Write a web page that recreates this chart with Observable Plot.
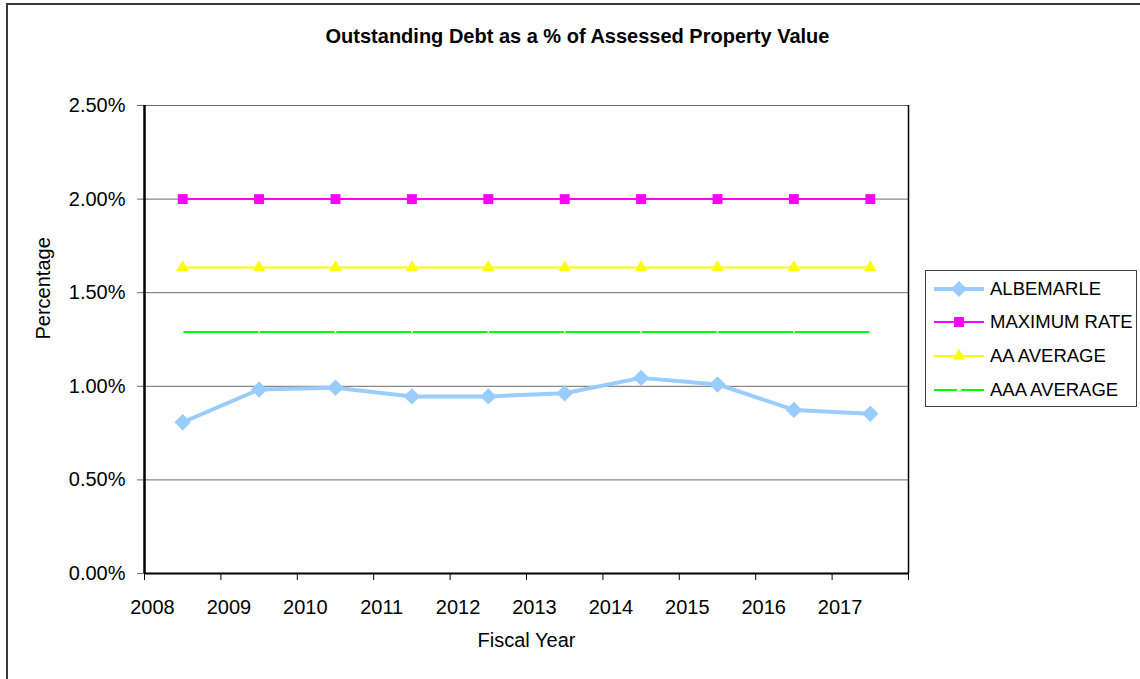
<!DOCTYPE html>
<html><head><meta charset="utf-8">
<script src="https://cdn.jsdelivr.net/npm/d3@7"></script>
<script src="https://cdn.jsdelivr.net/npm/@observablehq/plot@0.6"></script>
<style>
body{margin:0;background:#fff;font-family:"Liberation Sans",Arial,sans-serif;}
#wrap{position:relative;width:1140px;height:679px;overflow:hidden;background:#fff;}
#border{position:absolute;left:6px;top:3px;width:1150px;height:700px;border:2px solid #3a3a3a;box-sizing:border-box;}
#title{position:absolute;left:0;width:1155px;top:25px;text-align:center;font-weight:bold;font-size:20px;color:#000;}
#chart{position:absolute;left:0;top:0;}
#legend{position:absolute;left:925px;top:270px;width:212px;height:137px;border:1px solid #404040;box-sizing:border-box;background:#fff;}
.row{position:absolute;left:0;height:30px;display:flex;align-items:center;}
.row svg{margin-left:8px;}
.row span{margin-left:6px;font-size:18.5px;color:#000;white-space:nowrap;}
</style>
</head><body>
<div id="wrap">
  <div id="border"></div>
  <div id="chart"></div>
  <div id="title">Outstanding Debt as a % of Assessed Property Value</div>
  <div id="legend"></div>
</div>
<script>
const years = [2008, 2009, 2010, 2011, 2012, 2013, 2014, 2015, 2016, 2017];
const albemarle = [0.00808, 0.00983, 0.00992, 0.00946, 0.00946, 0.00963, 0.01045, 0.01010, 0.00874, 0.00853];
const maximumRate = [0.02, 0.02, 0.02, 0.02, 0.02, 0.02, 0.02, 0.02, 0.02, 0.02];
const aaAverage = [0.01635, 0.01635, 0.01635, 0.01635, 0.01635, 0.01635, 0.01635, 0.01635, 0.01635, 0.01635];
const aaaAverage = [0.0129, 0.0129, 0.0129, 0.0129, 0.0129, 0.0129, 0.0129, 0.0129, 0.0129, 0.0129];
const yTicks = [0, 0.005, 0.01, 0.015, 0.02, 0.025];
const xTickEdges = [2008, 2009, 2010, 2011, 2012, 2013, 2014, 2015, 2016, 2017, 2018];
const seriesNames = ["ALBEMARLE", "MAXIMUM RATE", "AA AVERAGE", "AAA AVERAGE"];
const seriesColors = ["#99CCFF", "#FF00FF", "#FFFF00", "#00FF00"];

const seriesValues = [albemarle, maximumRate, aaAverage, aaaAverage];
const rows = seriesNames.map((name, s) => years.map((year, i) => ({name, year, value: seriesValues[s][i]})));
const [rAlb, rMax, rAA, rAAA] = rows;
const xc = d => d.year + 0.5;
const font = '"Liberation Sans", Arial, sans-serif';

const chart = Plot.plot({
  width: 1140, height: 679,
  marginLeft: 144, marginRight: 232, marginTop: 105, marginBottom: 106,
  style: {fontFamily: font, fontSize: "20px", color: "#000", background: "transparent", overflow: "visible"},
  x: {type: "linear", domain: [2008, 2018]},
  y: {domain: [0, 0.025]},
  marks: [
    Plot.gridY(yTicks, {stroke: "#6b6b6b", strokeOpacity: 1, strokeWidth: 1}),
    Plot.axisY(yTicks, {tickFormat: d3.format(".2%"), tickSize: 7, tickPadding: 12, stroke: "#6b6b6b", label: null, fontSize: 20}),
    Plot.axisX(xTickEdges, {tickSize: 7, tickFormat: () => "", label: null, stroke: "#000"}),
    Plot.axisX(years, {tickSize: 0, tickPadding: 26, dx: 8, tickFormat: d => String(d), label: null, fontSize: 20}),
    Plot.ruleX([2018], {stroke: "#000", strokeWidth: 1.5}),
    Plot.ruleX([2008], {stroke: "#000", strokeWidth: 2.5}),
    Plot.ruleY([0], {stroke: "#000", strokeWidth: 2}),
    Plot.line(rAAA, {x: xc, y: "value", stroke: seriesColors[3], strokeWidth: 2, strokeDasharray: "73.4 3", strokeDashoffset: -1.5}),
    Plot.line(rAA, {x: xc, y: "value", stroke: seriesColors[2], strokeWidth: 2}),
    Plot.dot(rAA, {x: xc, y: "value", symbol: "triangle", r: 4.6, fill: seriesColors[2], stroke: "none"}),
    Plot.line(rMax, {x: xc, y: "value", stroke: seriesColors[1], strokeWidth: 2}),
    Plot.dot(rMax, {x: xc, y: "value", symbol: "square", r: 5.6, fill: seriesColors[1], stroke: "none"}),
    Plot.line(rAlb, {x: xc, y: "value", stroke: seriesColors[0], strokeWidth: 4}),
    Plot.dot(rAlb, {x: xc, y: "value", symbol: "diamond2", r: 7.4, fill: seriesColors[0], stroke: "none"}),
    Plot.text(["Percentage"], {frameAnchor: "left", rotate: -90, dx: -101, fontSize: 20}),
    Plot.text(["Fiscal Year"], {frameAnchor: "bottom", dy: 73, fontSize: 20})
  ]
});
document.getElementById("chart").appendChild(chart);

// Legend
const legend = d3.select("#legend");
const symbols = [d3.symbolDiamond2, d3.symbolSquare, d3.symbolTriangle, null];
const symSizes = [Math.PI * 7.2 * 7.2, Math.PI * 5.6 * 5.6, Math.PI * 4.6 * 4.6, 0];
const lineW = [4, 2, 2, 2];
const rowTops = [3, 36, 70, 104];
seriesNames.forEach((name, i) => {
  const row = legend.append("div").attr("class", "row").style("top", rowTops[i] + "px");
  const svg = row.append("svg").attr("width", 50).attr("height", 20);
  if (i === 3) {
    svg.append("line").attr("x1", 0).attr("x2", 23).attr("y1", 10).attr("y2", 10).attr("stroke", seriesColors[i]).attr("stroke-width", 2);
    svg.append("line").attr("x1", 27).attr("x2", 50).attr("y1", 10).attr("y2", 10).attr("stroke", seriesColors[i]).attr("stroke-width", 2);
  } else {
    svg.append("line").attr("x1", 0).attr("x2", 50).attr("y1", 10).attr("y2", 10).attr("stroke", seriesColors[i]).attr("stroke-width", lineW[i]);
    svg.append("path").attr("d", d3.symbol(symbols[i], symSizes[i])()).attr("transform", "translate(25,10)").attr("fill", seriesColors[i]);
  }
  row.append("span").text(name);
});
</script>
</body></html>
